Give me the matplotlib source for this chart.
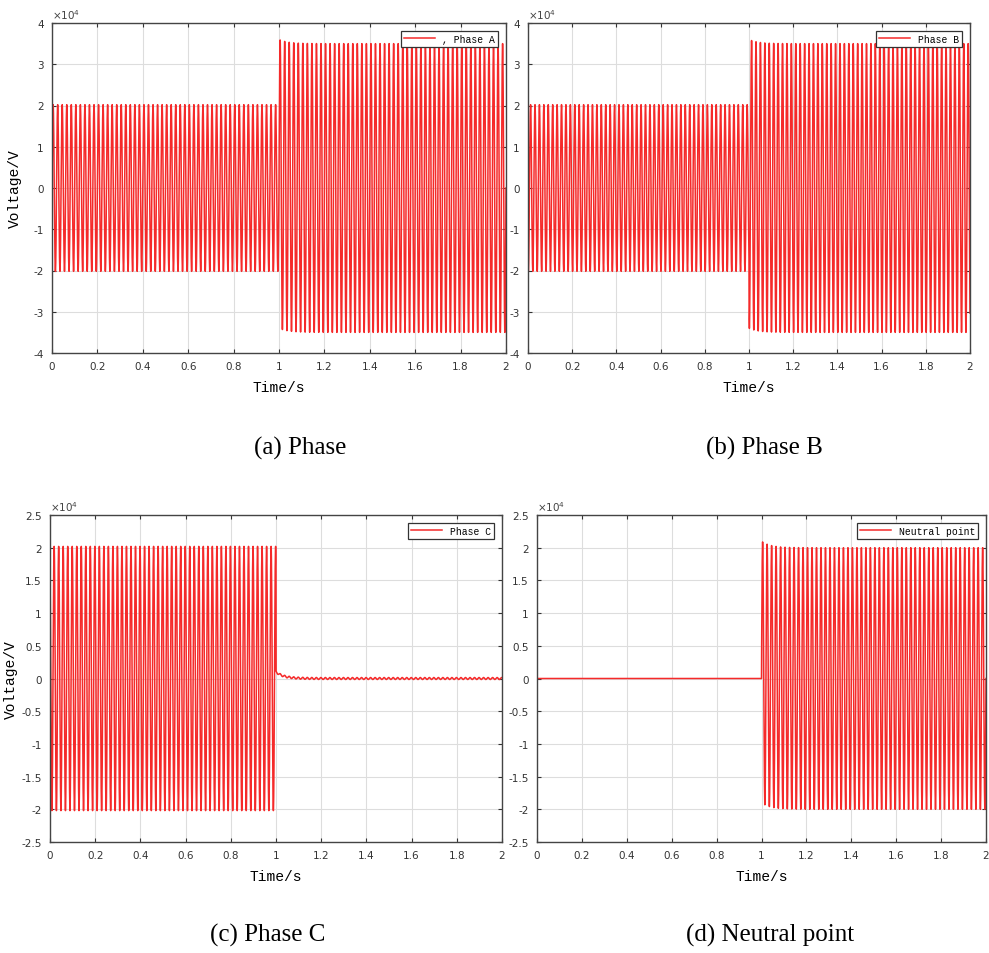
import numpy as np
import matplotlib
matplotlib.use("Agg")
import matplotlib.pyplot as plt
from matplotlib.ticker import FuncFormatter, MultipleLocator

plt.rcParams['axes.unicode_minus'] = False

# ---- data (volts) ----
freq_hz = 50.0
t_fault = 1.0
t_end = 2.0
series_names = [", Phase A", "Phase B", "Phase C", "Neutral point"]
captions = ["(a) Phase", "(b) Phase B", "(c) Phase C", "(d) Neutral point"]
amp_before = [20200, 20200, 20200, 0]        # amplitude before t = 1 s
amp_after = [35000, 35000, 150, 20000]       # steady amplitude after t = 1 s
dc_after = [1000, 1000, 1000, 1000]          # decaying offset just after fault
dc_tau = [0.04, 0.04, 0.035, 0.04]           # decay time constant, s
phase_deg = [0, -120, 120, 0]
y_limits = [(-40000, 40000), (-40000, 40000), (-25000, 25000), (-25000, 25000)]
y_steps = [10000, 10000, 5000, 5000]
x_ticks = [0, 0.2, 0.4, 0.6, 0.8, 1.0, 1.2, 1.4, 1.6, 1.8, 2.0]

t = np.linspace(0, t_end, 40001)

fig = plt.figure(figsize=(9.89, 9.54), dpi=100)
W, H = 989, 954
boxes = [(52, 24, 506, 354), (528, 24, 970, 354), (50, 516, 502, 843), (537, 516, 986, 843)]
cap_pos = [(300, 448), (764, 448), (268, 935), (770, 935)]

mono = "Liberation Mono"
for i in range(4):
    l, tp, r, b = boxes[i]
    ax = fig.add_axes([l / W, 1 - b / H, (r - l) / W, (b - tp) / H])
    ph = np.deg2rad(phase_deg[i])
    before = t < t_fault
    amp = np.where(before, amp_before[i], amp_after[i])
    dc = np.where(before, 0.0, dc_after[i] * np.exp(-(t - t_fault) / dc_tau[i]))
    v = amp * np.sin(2 * np.pi * freq_hz * t + ph) + dc
    ax.plot(t, v, color="#f52a2a", lw=1.1, label=series_names[i])
    ax.set_xlim(0, t_end)
    ax.set_ylim(*y_limits[i])
    ax.set_xticks(x_ticks)
    ax.yaxis.set_major_locator(MultipleLocator(y_steps[i]))
    ax.xaxis.set_major_formatter(FuncFormatter(lambda v, p: f"{v:g}"))
    ax.yaxis.set_major_formatter(FuncFormatter(lambda v, p: f"{v/1e4:g}"))
    ax.tick_params(direction="in", top=True, right=True, labelsize=7.5,
                   length=3, width=0.8, colors="#333333", pad=6)
    ax.grid(True, color="#dddddd", lw=0.8)
    for s in ax.spines.values():
        s.set_color("#444444")
        s.set_linewidth(1.0)
    ax.text(0.0, 1.005, r"$\times10^4$", transform=ax.transAxes, fontsize=7.5,
            color="#444444", ha="left", va="bottom")
    ax.set_xlabel("Time/s", fontsize=10.5, family=mono, labelpad=6)
    if i == 0:
        ax.set_ylabel("Voltage/V", fontsize=10.5, family=mono, labelpad=8)
    elif i == 2:
        ax.set_ylabel("Voltage/V", fontsize=10.5, family=mono)
        ax.yaxis.set_label_coords(-32 / (r - l), 0.5)
    leg = ax.legend(loc="upper right", prop={"family": mono, "size": 7},
                    fancybox=False, edgecolor="#333333", framealpha=1,
                    borderaxespad=0.8, handlelength=3.2, borderpad=0.3)
    leg.get_frame().set_linewidth(0.9)
    fig.text(cap_pos[i][0] / W, 1 - cap_pos[i][1] / H, captions[i],
             family="Liberation Serif", fontsize=18, ha="center", va="center")

fig.savefig("out.png", dpi=100)
